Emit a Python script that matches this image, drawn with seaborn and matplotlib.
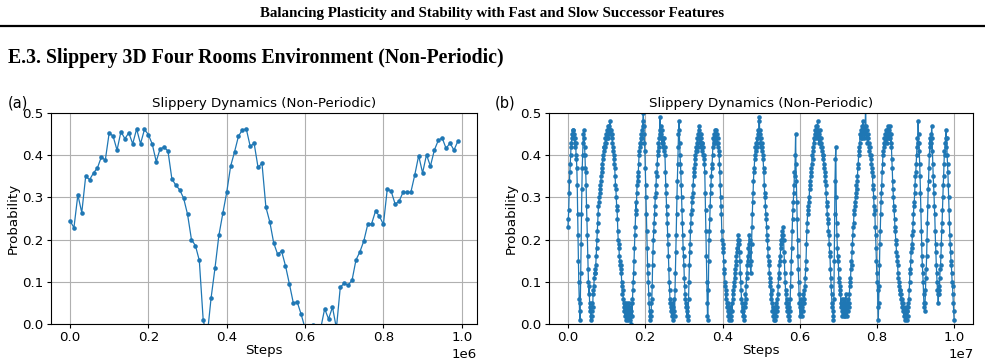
import numpy as np
import pandas as pd
import matplotlib
matplotlib.use('Agg')
import matplotlib.pyplot as plt
import seaborn as sns
from matplotlib.lines import Line2D

# ---- data ----
# (a) 100 evaluations, one every 1e4 steps
left_step = 1e4
left_probs = [0.245, 0.228, 0.306, 0.264, 0.350, 0.342, 0.358, 0.370, 0.396, 0.388,
              0.453, 0.445, 0.412, 0.456, 0.439, 0.453, 0.427, 0.462, 0.427, 0.461,
              0.449, 0.426, 0.385, 0.415, 0.419, 0.410, 0.344, 0.329, 0.318, 0.298,
              0.260, 0.200, 0.186, 0.151, 0.009, -0.030, 0.061, 0.132, 0.210, 0.262,
              0.312, 0.374, 0.408, 0.445, 0.460, 0.462, 0.421, 0.428, 0.371, 0.381,
              0.277, 0.242, 0.192, 0.165, 0.173, 0.138, 0.095, 0.050, 0.052, 0.023,
              -0.010, -0.030, -0.003, -0.020, -0.010, 0.036, 0.012, 0.040, -0.010, 0.088,
              0.096, 0.092, 0.104, 0.152, 0.171, 0.197, 0.236, 0.238, 0.268, 0.255,
              0.236, 0.321, 0.314, 0.284, 0.291, 0.312, 0.312, 0.312, 0.353, 0.399,
              0.358, 0.401, 0.374, 0.412, 0.435, 0.441, 0.416, 0.429, 0.412, 0.433]

# (b) 1000 evaluations, one every 1e4 steps, in blocks of 1e6 steps
right_step = 1e4
right_0 = [0.23, 0.25, 0.27, 0.31, 0.34, 0.36, 0.38, 0.40, 0.42, 0.43, 0.44, 0.45, 0.46, 0.45, 0.46,
           0.44, 0.45, 0.43, 0.44, 0.42, 0.43, 0.40, 0.39,
           0.37, 0.33, 0.26, 0.21, 0.15, 0.10, 0.06, 0.03, 0.01,
           0.05, 0.12, 0.19, 0.26, 0.32, 0.37, 0.40, 0.43, 0.45, 0.46, 0.44,
           0.42, 0.40, 0.37, 0.36, 0.33, 0.28, 0.25, 0.21, 0.16, 0.13, 0.10, 0.07, 0.09, 0.05, 0.03, 0.04, 0.02, 0.01, 0.02,
           0.03, 0.05, 0.04, 0.07, 0.08, 0.09, 0.11, 0.12, 0.12, 0.13,
           0.14, 0.16, 0.18, 0.20, 0.22, 0.24, 0.26, 0.28, 0.29, 0.30,
           0.31, 0.32, 0.33, 0.34, 0.35, 0.37, 0.36, 0.38, 0.40, 0.39,
           0.41, 0.42, 0.42, 0.43, 0.42, 0.44, 0.43, 0.45]
right_1 = [0.44, 0.46, 0.45, 0.47, 0.44, 0.46, 0.45, 0.47, 0.46, 0.48, 0.46, 0.45,
           0.46, 0.44, 0.45, 0.43, 0.42, 0.41, 0.40, 0.39, 0.38, 0.37,
           0.35, 0.33, 0.32, 0.30, 0.28, 0.27, 0.25, 0.22, 0.20, 0.19,
           0.18, 0.16, 0.15, 0.14, 0.13, 0.14, 0.12, 0.10, 0.09, 0.07,
           0.08, 0.06, 0.05, 0.04, 0.03, 0.05, 0.02, 0.04, 0.01, 0.03,
           0.05, 0.02, 0.03, 0.01, 0.04, 0.02, 0.05, 0.03, 0.01, 0.04,
           0.02, 0.00, 0.03, 0.05, 0.02, 0.06, 0.08, 0.10, 0.12, 0.15,
           0.18, 0.21, 0.23, 0.26, 0.29, 0.27, 0.31, 0.33, 0.35, 0.34,
           0.36, 0.38, 0.40, 0.41, 0.43, 0.42, 0.44, 0.43, 0.45, 0.44,
           0.46, 0.47, 0.48, 0.50, 0.47, 0.45, 0.43, 0.41]
right_2 = [0.37, 0.33, 0.30, 0.26, 0.22, 0.18, 0.14, 0.12, 0.10, 0.07, 0.05, 0.03,
           0.02, 0.01, 0.03, 0.02, 0.05, 0.06, 0.09, 0.14, 0.17, 0.20,
           0.22, 0.24, 0.26, 0.28, 0.30, 0.31, 0.33, 0.36, 0.35, 0.38,
           0.40, 0.41, 0.43, 0.42, 0.44, 0.46, 0.49, 0.45, 0.47, 0.44,
           0.45, 0.43, 0.46, 0.44, 0.42, 0.43, 0.41, 0.44, 0.42, 0.40,
           0.36, 0.33, 0.31, 0.28, 0.26, 0.24, 0.21, 0.19, 0.16, 0.13,
           0.10, 0.08, 0.06, 0.05, 0.03, 0.04, 0.02, 0.05, 0.03, 0.01,
           0.04, 0.02, 0.06, 0.03, 0.02, 0.08, 0.12, 0.17, 0.21, 0.26,
           0.30, 0.34, 0.38, 0.42, 0.45, 0.48, 0.46, 0.43, 0.40, 0.38,
           0.36, 0.33, 0.30, 0.27, 0.24, 0.21, 0.18, 0.16]
right_3 = [0.14, 0.11, 0.09, 0.07, 0.06, 0.04, 0.05, 0.03, 0.02, 0.04, 0.01, 0.02,
           0.06, 0.10, 0.14, 0.17, 0.19, 0.22, 0.24, 0.26, 0.27, 0.29,
           0.30, 0.31, 0.33, 0.35, 0.36, 0.37, 0.38, 0.40, 0.39, 0.41,
           0.42, 0.41, 0.43, 0.44, 0.42, 0.45, 0.46, 0.47, 0.44, 0.45,
           0.43, 0.44, 0.42, 0.45, 0.43, 0.41, 0.43, 0.40, 0.42, 0.39,
           0.40, 0.38, 0.36, 0.31, 0.27, 0.22, 0.16, 0.10, 0.05, 0.02,
           0.01, 0.08, 0.15, 0.20, 0.22, 0.25, 0.28, 0.31, 0.33, 0.35,
           0.37, 0.38, 0.40, 0.42, 0.44, 0.43, 0.45, 0.44, 0.46, 0.43,
           0.45, 0.44, 0.46, 0.45, 0.43, 0.44, 0.42, 0.43, 0.41, 0.40,
           0.38, 0.36, 0.33, 0.30, 0.28, 0.26, 0.22, 0.20]
right_4 = [0.19, 0.18, 0.17, 0.15, 0.13, 0.12, 0.10, 0.09, 0.08, 0.06, 0.07, 0.05, 0.04,
           0.05, 0.03, 0.02, 0.04, 0.01, 0.03, 0.02, 0.04, 0.01, 0.03,
           0.02, 0.05, 0.03, 0.06, 0.08, 0.07, 0.10, 0.09, 0.12, 0.11,
           0.13, 0.15, 0.14, 0.16, 0.18, 0.17, 0.19, 0.20, 0.21, 0.19,
           0.20, 0.17, 0.15, 0.12, 0.10, 0.08, 0.06, 0.05, 0.03, 0.04,
           0.02, 0.03, 0.01, 0.02, 0.04, 0.05, 0.07, 0.06, 0.09, 0.11,
           0.12, 0.14, 0.16, 0.15, 0.18, 0.19, 0.21, 0.20, 0.17, 0.14,
           0.12, 0.15, 0.19, 0.23, 0.26, 0.29, 0.31, 0.34, 0.36, 0.37,
           0.39, 0.40, 0.42, 0.41, 0.43, 0.42, 0.44, 0.43, 0.45, 0.46,
           0.44, 0.48, 0.49, 0.46, 0.45, 0.43, 0.44]
right_5 = [0.42, 0.43, 0.41, 0.42, 0.40, 0.39, 0.37, 0.36, 0.33, 0.31, 0.30, 0.28, 0.26,
           0.25, 0.23, 0.21, 0.20, 0.18, 0.16, 0.14, 0.15, 0.12, 0.11,
           0.09, 0.10, 0.07, 0.06, 0.08, 0.05, 0.03, 0.04, 0.02, 0.01,
           0.03, 0.02, 0.04, 0.01, 0.03, 0.02, 0.05, 0.03, 0.06, 0.04,
           0.07, 0.09, 0.12, 0.11, 0.14, 0.16, 0.15, 0.18, 0.20, 0.19,
           0.21, 0.20, 0.22, 0.21, 0.23, 0.20, 0.17, 0.15, 0.12, 0.10,
           0.08, 0.07, 0.05, 0.06, 0.04, 0.03, 0.05, 0.02, 0.04, 0.02,
           0.01, 0.03, 0.06, 0.09, 0.12, 0.15, 0.18, 0.22, 0.25, 0.27,
           0.29, 0.31, 0.33, 0.36, 0.35, 0.40, 0.45, 0.38, 0.34, 0.29,
           0.25, 0.20, 0.16, 0.13, 0.10, 0.07, 0.05]
right_6 = [0.04, 0.02, 0.05, 0.03, 0.06, 0.04, 0.02, 0.05, 0.03, 0.07, 0.05, 0.08, 0.06,
           0.09, 0.11, 0.13, 0.15, 0.19, 0.22, 0.24, 0.26, 0.27, 0.28,
           0.30, 0.29, 0.32, 0.33, 0.34, 0.36, 0.35, 0.37, 0.38, 0.40,
           0.39, 0.41, 0.42, 0.44, 0.43, 0.45, 0.44, 0.46, 0.45, 0.47,
           0.46, 0.44, 0.47, 0.48, 0.45, 0.46, 0.43, 0.45, 0.44, 0.46,
           0.43, 0.44, 0.42, 0.43, 0.41, 0.42, 0.40, 0.39, 0.40, 0.38,
           0.37, 0.36, 0.35, 0.34, 0.33, 0.31, 0.29, 0.28, 0.26, 0.25,
           0.24, 0.22, 0.21, 0.19, 0.17, 0.16, 0.13, 0.11, 0.09, 0.07,
           0.05, 0.04, 0.03, 0.02, 0.01, 0.06, 0.15, 0.26, 0.34, 0.39,
           0.42, 0.30, 0.24, 0.21, 0.18, 0.15, 0.16]
right_7 = [0.13, 0.10, 0.11, 0.08, 0.07, 0.09, 0.05, 0.04, 0.06, 0.03, 0.02, 0.04, 0.05,
           0.02, 0.06, 0.03, 0.05, 0.02, 0.04, 0.07, 0.03, 0.05, 0.02,
           0.04, 0.06, 0.03, 0.05, 0.04, 0.07, 0.09, 0.11, 0.10, 0.13,
           0.15, 0.14, 0.17, 0.19, 0.21, 0.23, 0.24, 0.26, 0.27, 0.28,
           0.29, 0.30, 0.31, 0.33, 0.32, 0.34, 0.35, 0.37, 0.38, 0.40,
           0.42, 0.41, 0.43, 0.45, 0.44, 0.46, 0.45, 0.47, 0.44, 0.46,
           0.48, 0.45, 0.47, 0.46, 0.44, 0.46, 0.45, 0.53, 0.47, 0.45,
           0.44, 0.46, 0.43, 0.45, 0.44, 0.42, 0.43, 0.41, 0.42, 0.40,
           0.39, 0.40, 0.38, 0.37, 0.36, 0.35, 0.33, 0.32, 0.30, 0.28,
           0.26, 0.27, 0.23, 0.21, 0.18, 0.15, 0.12]
right_8 = [0.10, 0.08, 0.04, 0.01, 0.05, 0.09, 0.14, 0.19, 0.22, 0.26, 0.29, 0.31, 0.33,
           0.36, 0.38, 0.40, 0.41, 0.43, 0.42, 0.44, 0.43, 0.45, 0.44,
           0.46, 0.45, 0.43, 0.46, 0.44, 0.47, 0.45, 0.46, 0.44, 0.45,
           0.47, 0.44, 0.43, 0.45, 0.42, 0.39, 0.37, 0.34, 0.32, 0.30,
           0.28, 0.27, 0.25, 0.23, 0.22, 0.20, 0.19, 0.17, 0.16, 0.15,
           0.14, 0.12, 0.11, 0.10, 0.09, 0.08, 0.07, 0.08, 0.06, 0.07,
           0.05, 0.06, 0.04, 0.05, 0.03, 0.04, 0.02, 0.03, 0.01, 0.03,
           0.02, 0.04, 0.02, 0.03, 0.01, 0.03, 0.02, 0.05, 0.04, 0.06,
           0.08, 0.10, 0.13, 0.12, 0.15, 0.17, 0.19, 0.18, 0.21, 0.22,
           0.24, 0.26, 0.28, 0.29, 0.31, 0.33, 0.35]
right_9 = [0.36, 0.38, 0.40, 0.42, 0.44, 0.43, 0.48, 0.45, 0.43, 0.41, 0.38, 0.35, 0.31,
           0.27, 0.22, 0.19, 0.16, 0.14, 0.12, 0.10, 0.07, 0.05, 0.04,
           0.03, 0.05, 0.08, 0.11, 0.13, 0.16, 0.20, 0.24, 0.28, 0.32,
           0.34, 0.37, 0.40, 0.42, 0.44, 0.43, 0.45, 0.43, 0.47, 0.44,
           0.41, 0.38, 0.35, 0.33, 0.31, 0.28, 0.26, 0.22, 0.19, 0.17,
           0.14, 0.12, 0.10, 0.08, 0.07, 0.05, 0.07, 0.09, 0.08, 0.11,
           0.13, 0.14, 0.16, 0.19, 0.22, 0.24, 0.27, 0.30, 0.33, 0.35,
           0.38, 0.41, 0.40, 0.43, 0.44, 0.46, 0.42, 0.44, 0.40, 0.38,
           0.36, 0.33, 0.30, 0.27, 0.24, 0.21, 0.19, 0.17, 0.15, 0.14,
           0.12, 0.10, 0.09, 0.07, 0.05, 0.03, 0.01]

title = 'Slippery Dynamics (Non-Periodic)'
page_header = 'Balancing Plasticity and Stability with Fast and Slow Successor Features'
section_header = 'E.3. Slippery 3D Four Rooms Environment (Non-Periodic)'
panel_labels = ['(a)', '(b)']

BLUE = '#1f77b4'
FS = 9.6


def make_frame(values, step):
    return pd.DataFrame({'Steps': np.arange(len(values)) * step,
                         'Probability': values})


def draw(ax, df):
    sns.lineplot(data=df, x='Steps', y='Probability', ax=ax, color=BLUE,
                 marker='o', markersize=3.3, markeredgewidth=0, linewidth=0.9)
    ax.set_ylim(0, 0.5)
    ax.grid(True, color='#b0b0b0', linewidth=0.8)
    ax.set_axisbelow(True)
    ax.set_title(title, fontsize=FS, pad=4)
    ax.set_xlabel('Steps', fontsize=FS, labelpad=0)
    ax.set_ylabel('Probability', fontsize=FS, labelpad=2)
    ax.tick_params(labelsize=FS, length=3, pad=2)
    ax.xaxis.get_offset_text().set_fontsize(FS)
    for s in ax.spines.values():
        s.set_linewidth(0.8)


def main():
    plt.rcParams['font.family'] = ['DejaVu Sans']
    fig = plt.figure(figsize=(9.85, 3.63), dpi=100)

    right_probs = (right_0 + right_1 + right_2 + right_3 + right_4 +
                   right_5 + right_6 + right_7 + right_8 + right_9)

    ax1 = fig.add_axes([0.0514, 0.1074, 0.4331, 0.5813])
    ax2 = fig.add_axes([0.5570, 0.1074, 0.4312, 0.5813])
    draw(ax1, make_frame(left_probs, left_step))
    draw(ax2, make_frame(right_probs, right_step))

    # page decorations
    fig.text(0.5, 1 - 14 / 363, page_header, ha='center', va='center',
             family='Liberation Serif', weight='bold', fontsize=10.8)
    fig.add_artist(Line2D([0.0, 1.0], [1 - 26 / 363, 1 - 26 / 363],
                          transform=fig.transFigure, color='black', linewidth=1.6))
    fig.text(8 / 985, 1 - 58 / 363, section_header, ha='left', va='center',
             family='Liberation Serif', weight='bold', fontsize=14.2)
    fig.text(8 / 985, 1 - 103 / 363, panel_labels[0], ha='left', va='center', fontsize=10.5)
    fig.text(495 / 985, 1 - 103 / 363, panel_labels[1], ha='left', va='center', fontsize=10.5)

    fig.savefig('out.png', dpi=100)


if __name__ == '__main__':
    main()
